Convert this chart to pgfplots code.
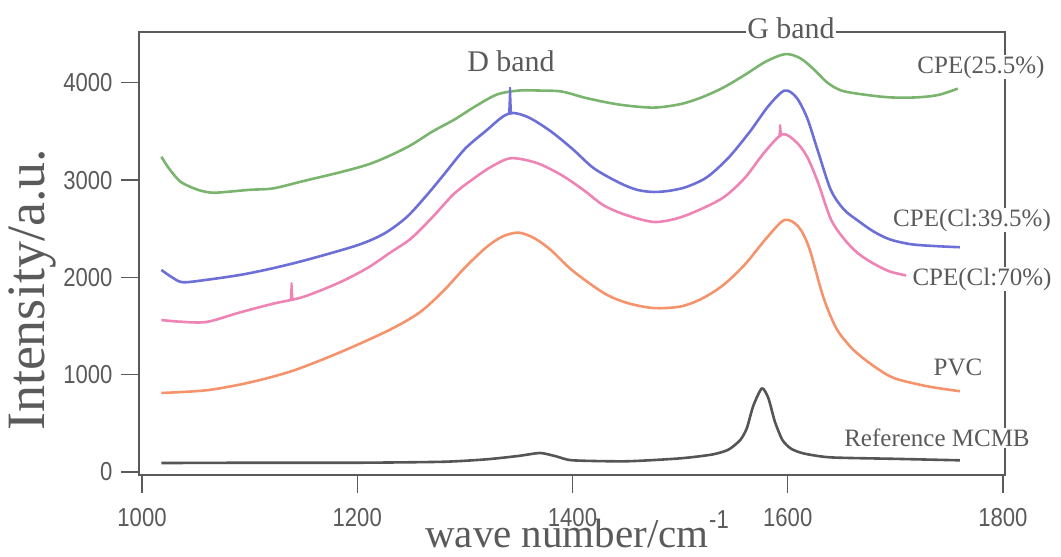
\documentclass[border=0pt]{standalone}
\usepackage{pgfplots}
\pgfplotsset{compat=1.18}
\usepackage{fontspec}
\setmainfont{Liberation Serif}
\newfontfamily\tickfont[FakeStretch=0.85]{Liberation Sans}
\definecolor{cgreen}{RGB}{122,180,110}
\definecolor{cblue}{RGB}{108,112,214}
\definecolor{cpink}{RGB}{238,132,182}
\definecolor{corange}{RGB}{245,148,108}
\definecolor{cblack}{RGB}{85,85,85}
\definecolor{cgray}{RGB}{90,90,90}
\begin{document}
\begin{tikzpicture}
\begin{axis}[
  at={(0,0)}, anchor=south west,
  scale only axis, width=866pt, height=443pt,
  xmin=997.2, xmax=1801.9, ymin=-31, ymax=4522,
  axis line style={draw=cgray, line width=1.4pt},
  xtick={1000,1200,1400,1600,1800}, ytick={0,1000,2000,3000,4000},
  xtick pos=left, ytick pos=left,
  tick align=outside, major tick length=18pt,
  tick style={cgray, line width=1.4pt},
  ticklabel style={font=\tickfont\fontsize{26}{26}\selectfont, text=cgray},
  xticklabel style={yshift=-12pt},
  yticklabel style={xshift=-5pt},
  /pgf/number format/assume math mode=true,
  /pgf/number format/1000 sep={},
  every axis plot/.append style={line width=2.6pt, line join=round},
]
% CPE(25.5%)
\addplot[cgreen, smooth, tension=0.5] coordinates {
(1018,3240) (1025,3120) (1035,2990) (1045,2930) (1055,2890) (1066,2870)
(1080,2880) (1100,2900) (1122,2915) (1150,2990) (1184,3080) (1210,3160)
(1230,3250) (1250,3360) (1270,3500) (1290,3620) (1310,3760) (1330,3880)
(1350,3920) (1370,3920) (1390,3910) (1414,3840) (1444,3775) (1475,3745)
(1500,3780) (1520,3850) (1540,3950) (1560,4080) (1580,4220) (1598,4295)
(1612,4250) (1625,4130) (1637,4000) (1650,3920) (1670,3880) (1695,3850)
(1720,3850) (1740,3875) (1758,3940)};
% CPE(Cl:39.5%)
\addplot[cblue, smooth, tension=0.5] coordinates {
(1018,2076) (1028,2000) (1038,1950) (1060,1975) (1091,2025) (1120,2090)
(1153,2180) (1200,2330) (1225,2450) (1246,2620) (1265,2850) (1280,3050)
(1300,3320) (1320,3510) (1335,3650) (1345,3690) (1360,3640) (1380,3500)
(1400,3320) (1420,3120) (1444,2970) (1460,2900) (1475,2878) (1490,2890)
(1506,2930) (1525,3030) (1545,3230) (1565,3500) (1582,3760) (1597,3920)
(1608,3850) (1618,3640) (1628,3300) (1640,2900) (1652,2700) (1665,2585)
(1680,2470) (1695,2390) (1715,2340) (1740,2320) (1760,2310)};
\addplot[cblue, line width=2pt] coordinates {(1341,3675) (1342,3950) (1343,3680)};
% CPE(Cl:70%)
\addplot[cpink, smooth, tension=0.5] coordinates {
(1018,1562) (1035,1545) (1060,1542) (1091,1640) (1122,1730) (1150,1800)
(1184,1950) (1210,2100) (1230,2250) (1250,2400) (1270,2620) (1290,2860)
(1310,3030) (1325,3140) (1343,3225) (1367,3175) (1390,3050) (1410,2900)
(1429,2740) (1450,2640) (1475,2570) (1495,2600) (1515,2680) (1540,2820)
(1560,3020) (1578,3280) (1595,3470) (1608,3390) (1618,3240) (1628,2980)
(1640,2600) (1652,2400) (1665,2250) (1680,2140) (1695,2060) (1710,2020)};
\addplot[cpink, line width=2pt] coordinates {(1138,1760) (1139,1942) (1140,1765)};
\addplot[cpink, line width=2pt] coordinates {(1592,3440) (1593,3566) (1594,3450)};
% PVC
\addplot[corange, smooth, tension=0.5] coordinates {
(1018,812) (1060,840) (1100,920) (1140,1040) (1184,1230) (1230,1460)
(1258,1640) (1280,1860) (1300,2100) (1320,2310) (1335,2420) (1350,2460)
(1365,2400) (1380,2280) (1400,2070) (1429,1840) (1450,1740) (1475,1685)
(1500,1700) (1520,1780) (1540,1920) (1560,2130) (1580,2400) (1597,2590)
(1610,2520) (1620,2300) (1633,1800) (1645,1480) (1658,1290) (1670,1170)
(1685,1050) (1700,960) (1730,880) (1760,830)};
% Reference MCMB
\addplot[cblack, smooth, tension=0.4] coordinates {
(1018,92) (1100,95) (1200,95) (1280,105) (1320,130) (1350,165) (1370,195)
(1385,160) (1400,120) (1450,110) (1500,140) (1530,180) (1545,230)
(1556,330) (1562,450) (1568,680) (1576,860) (1582,760) (1588,520)
(1595,330) (1603,240) (1615,190) (1640,150) (1700,135) (1760,120)};
\end{axis}
\begin{scope}[every node/.style={text=cgray, inner sep=1pt}]
\node[fill=white, font=\fontsize{30}{30}\selectfont] at (652pt,447pt) {G band};
\node[font=\fontsize{30}{30}\selectfont] at (372pt,414pt) {D band};
\node[fill=white, font=\fontsize{25}{25}\selectfont] at (842pt,408pt) {CPE(25.5\%)};
\node[fill=white, font=\fontsize{25}{25}\selectfont] at (833pt,255pt) {CPE(Cl:39.5\%)};
\node[fill=white, font=\fontsize{25}{25}\selectfont] at (843pt,196pt) {CPE(Cl:70\%)};
\node[fill=white, font=\fontsize{25}{25}\selectfont] at (819pt,108pt) {PVC};
\node[fill=white, font=\fontsize{25}{25}\selectfont] at (798pt,37pt) {Reference MCMB};
\node[rotate=90, font=\fontsize{54}{54}\selectfont] at (-107pt,185pt) {Intensity/a.u.};
\node[anchor=base, font=\fontsize{41}{41}\selectfont] at (428pt,-73pt) {wave number/cm};
\node[font=\tickfont\fontsize{26}{26}\selectfont] at (580pt,-45pt) {-1};
\end{scope}
\pgfresetboundingbox
\path (-139pt,-82pt) rectangle (922pt,475pt);
\end{tikzpicture}
\end{document}
